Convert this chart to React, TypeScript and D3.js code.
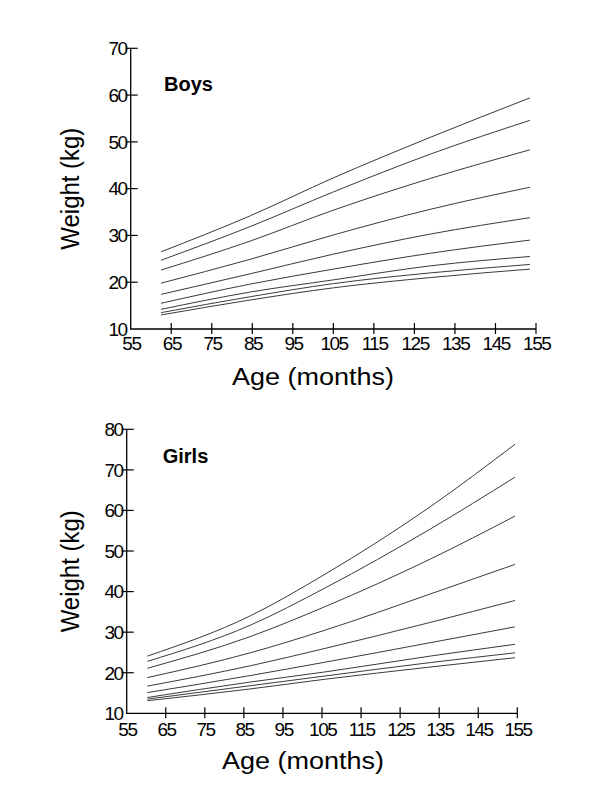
import React from "react";
import * as d3 from "d3";

const xTicks = [55, 65, 75, 85, 95, 105, 115, 125, 135, 145, 155];
const boysYTicks = [10, 20, 30, 40, 50, 60, 70];
const girlsYTicks = [10, 20, 30, 40, 50, 60, 70, 80];

const boysAges = [62.5, 84.5, 105, 129, 153.5];
const boysCurves = [
  [26.5, 34.2, 42.3, 51.0, 59.4],
  [24.7, 31.9, 39.3, 47.4, 54.6],
  [22.6, 28.8, 35.4, 42.2, 48.3],
  [19.8, 24.9, 30.1, 35.6, 40.3],
  [17.4, 21.8, 26.0, 30.3, 33.8],
  [15.5, 19.6, 22.8, 26.2, 29.0],
  [14.2, 17.9, 20.5, 23.5, 25.5],
  [13.5, 16.9, 19.7, 22.0, 23.8],
  [13.0, 16.2, 18.8, 21.0, 22.8],
];

const girlsAges = [60.3, 86.6, 105.8, 132.7, 154.4];
const girlsCurves = [
  [24.1, 34.0, 44.3, 60.9, 76.3],
  [22.8, 31.7, 40.9, 55.4, 68.2],
  [21.1, 28.9, 36.3, 48.0, 58.6],
  [18.8, 24.9, 30.5, 39.4, 46.7],
  [16.7, 21.7, 26.0, 32.4, 37.8],
  [15.1, 19.3, 22.6, 27.4, 31.3],
  [13.9, 17.7, 20.2, 24.1, 27.0],
  [13.5, 16.8, 19.2, 22.5, 24.9],
  [13.1, 16.0, 18.4, 21.4, 23.7],
];

const FONT = "'Liberation Sans', Arial, sans-serif";

type PanelProps = {
  title: string;
  ages: number[];
  curves: number[][];
  yTicks: number[];
  x0: number;
  x1: number;
  yTop: number;
  yBot: number;
  titleX: number;
  titleY: number;
  yTitleX: number;
  xTitleX: number;
  xTitleY: number;
  xLabelGap: number;
};

function Panel(p: PanelProps) {
  const yMin = p.yTicks[0];
  const yMax = p.yTicks[p.yTicks.length - 1];
  const x = d3.scaleLinear().domain([55, 155]).range([p.x0, p.x1]);
  const y = d3.scaleLinear().domain([yMin, yMax]).range([p.yBot, p.yTop]);
  const line = d3
    .line<[number, number]>()
    .x((d) => x(d[0]))
    .y((d) => y(d[1]))
    .curve(d3.curveMonotoneX);
  return (
    <g>
      {p.curves.map((c, i) => (
        <path
          key={i}
          d={line(c.map((v, j) => [p.ages[j], v] as [number, number])) || ""}
          fill="none"
          stroke="#3a3a3a"
          strokeWidth={1}
        />
      ))}
      <path
        d={`M${p.x0},${p.yTop}V${p.yBot}H${p.x1}`}
        fill="none"
        stroke="#000"
        strokeWidth={1.3}
      />
      {p.yTicks.map((t) => (
        <g key={"y" + t}>
          {t !== yMin && (
            <line x1={p.x0 - 5} x2={p.x0 + 7} y1={y(t)} y2={y(t)} stroke="#000" strokeWidth={1.2} />
          )}
          <text
            x={p.x0 - 4}
            y={y(t)}
            dy="0.36em"
            textAnchor="end"
            fontFamily={FONT}
            fontSize={19}
            letterSpacing={-1.5}
            fill="#000"
          >
            {t}
          </text>
        </g>
      ))}
      {xTicks.map((t) => (
        <g key={"x" + t}>
          {t !== 55 && (
            <line x1={x(t)} x2={x(t)} y1={p.yBot - 6} y2={p.yBot + 5} stroke="#000" strokeWidth={1.2} />
          )}
          <text
            x={x(t) + 0.7}
            y={p.yBot + p.xLabelGap}
            textAnchor="middle"
            fontFamily={FONT}
            fontSize={19}
            letterSpacing={-1.5}
            fill="#000"
          >
            {t}
          </text>
        </g>
      ))}
      <text x={p.titleX} y={p.titleY} fontFamily={FONT} fontSize={20} fontWeight="bold" fill="#000">
        {p.title}
      </text>
      <text
        transform={`translate(${p.yTitleX},${(p.yTop + p.yBot) / 2}) rotate(-90)`}
        textAnchor="middle"
        dy="0.35em"
        fontFamily={FONT}
        fontSize={25}
        textLength={122}
        lengthAdjust="spacingAndGlyphs"
        fill="#000"
      >
        Weight (kg)
      </text>
      <text
        x={p.xTitleX}
        y={p.xTitleY}
        textAnchor="middle"
        fontFamily={FONT}
        fontSize={23}
        textLength={162}
        lengthAdjust="spacingAndGlyphs"
        fill="#000"
      >
        Age (months)
      </text>
    </g>
  );
}

export default function App() {
  return (
    <svg
      width={600}
      height={800}
      viewBox="0 0 600 800"
      style={{ position: "absolute", left: 0, top: 0, background: "#fff" }}
    >
      <rect x={0} y={0} width={600} height={800} fill="#fff" />
      <Panel
        title="Boys"
        ages={boysAges}
        curves={boysCurves}
        yTicks={boysYTicks}
        x0={130.7}
        x1={536}
        yTop={48.3}
        yBot={329}
        titleX={164}
        titleY={91}
        yTitleX={70}
        xTitleX={313}
        xTitleY={385}
        xLabelGap={21}
      />
      <Panel
        title="Girls"
        ages={girlsAges}
        curves={girlsCurves}
        yTicks={girlsYTicks}
        x0={126.7}
        x1={517.3}
        yTop={429.3}
        yBot={713.3}
        titleX={162.7}
        titleY={463.3}
        yTitleX={70}
        xTitleX={303}
        xTitleY={769}
        xLabelGap={23}
      />
    </svg>
  );
}
